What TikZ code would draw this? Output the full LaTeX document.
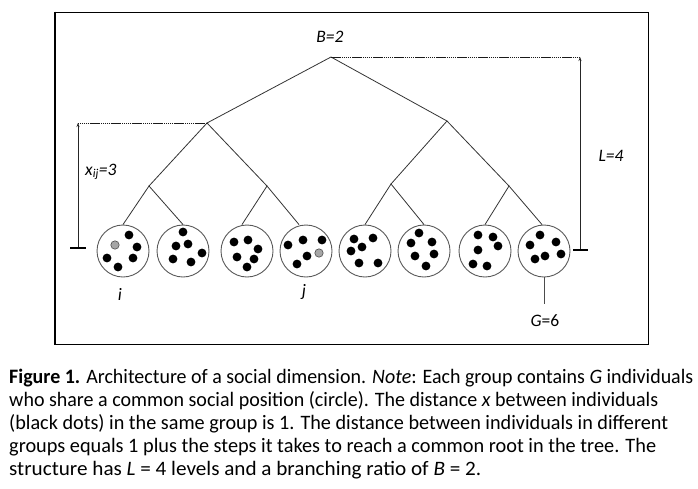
\documentclass[tikz,border=0pt]{standalone}
\usepackage{fontspec}
\usepackage{graphicx}
\setmainfont{Carlito}
\usetikzlibrary{arrows.meta}
\newcommand\grpdots[2]{\foreach \a/\b in {#2} {\fill[black] (#1) ++(\a,\b) circle[radius=4.4];}}
\newcommand\capline[3]{\node[anchor=base west, inner sep=0] at (9,#1) {\resizebox{#2pt}{\height}{\fontsize{20.5}{24}\selectfont #3}};}
\begin{document}
\begin{tikzpicture}[x=1pt,y=-1pt,
  treeline/.style={draw=black!80, line width=0.8pt},
  grp/.style={circle, draw=black!65, line width=0.9pt, minimum size=52pt, inner sep=0pt},
  lbl/.style={font=\fontsize{17.5}{19}\selectfont\itshape, inner sep=0pt},
  dashline/.style={draw=black!90, line width=0.8pt, dash pattern=on 1.5pt off 0.6pt},
  measure/.style={draw=black!85, line width=0.8pt, -{Stealth[length=4pt,width=3pt]}},
  tick/.style={draw=black, line width=1.6pt},
  graydot/.style={fill=black!35, draw=black!70, line width=0.6pt}]
\useasboundingbox (0,0) rectangle (698,488);
% frame
\draw[line width=1pt] (55,12.5) -- (648,12.5) -- (648,344) -- (55,344);
\draw[line width=2pt] (55,11.5) -- (55,345);
% tree nodes
\coordinate (r) at (331,57);
\coordinate (a) at (207,123);
\coordinate (b) at (447,121);
\coordinate (a1) at (149,186);
\coordinate (a2) at (267,186);
\coordinate (b1) at (391,184);
\coordinate (b2) at (509,186);
% groups
\node[grp] (c1) at (123,251) {};
\node[grp] (c2) at (183,251) {};
\node[grp] (c3) at (247,251) {};
\node[grp] (c4) at (306,251) {};
\node[grp] (c5) at (365,251) {};
\node[grp] (c6) at (424,251) {};
\node[grp] (c7) at (485,251) {};
\node[grp] (c8) at (544,251) {};
% tree lines
\draw[treeline] (a) -- (r) -- (b);
\draw[treeline] (a1) -- (a) -- (a2);
\draw[treeline] (b1) -- (b) -- (b2);
\draw[treeline] (c1.north) -- (a1) -- (c2.north);
\draw[treeline] ([xshift=-5pt]c3.north) -- (a2) -- ([xshift=-7pt]c4.north);
\draw[treeline] (c5.north) -- (b1) -- (c6.north);
\draw[treeline] (c7.north) -- (b2) -- ([xshift=-2pt]c8.north);
% dots
\grpdots{c1}{6/-16,14/-4,-16/7,-5/16,10/7}
\filldraw[graydot] (c1) ++(-8,-6) circle[radius=4.2];
\grpdots{c2}{0/-19,-7/-5,5/-7,19/2,-10/8,8/11}
\grpdots{c3}{-13/-9,1/-11,11/-2,-10/6,7/8,0/16}
\grpdots{c4}{-18/-6,-3/-11,16/-11,1/5,-9/13}
\filldraw[graydot] (c4) ++(13,2) circle[radius=4.2];
\grpdots{c5}{-11/-12,8/-13,-14/0,-3/-4,-6/12,13/12}
\grpdots{c6}{-5/-18,-13/-8,8/-9,-9/5,10/3,2/15}
\grpdots{c7}{-7/-16,8/-14,13/-5,-7/-1,-12/13,2/15}
\grpdots{c8}{-4/-16,-14/-6,12/-9,17/3,1/5,-9/8}
% measures
\coordinate (lt) at (78,123);
\coordinate (lb) at (78,248);
\coordinate (rt) at (580,57);
\coordinate (rb) at (580,250);
\draw[dashline] (a) -- (lt);
\draw[dashline] (r) -- (rt);
\draw[measure] (lb) -- (lt);
\draw[measure] (rb) -- (rt);
\draw[tick] ([xshift=-8pt]lb) -- ([xshift=8pt]lb);
\draw[tick] ([xshift=-7pt]rb) -- ([xshift=8pt]rb);
% G line
\coordinate (gl) at (544,304);
\draw[draw=black!70, line width=0.8pt] (c8.south) -- (gl);
% labels
\node[lbl] (lB) at (330,37) {B=2};
\node[lbl, anchor=west] (lx) at (85,172) {x\textsubscript{\fontsize{12}{12}\selectfont ij}=3};
\node[lbl] (lL) at (611,156) {L=4};
\node[lbl] (li) at (120,294) {i};
\node[lbl] (lj) at (304,292) {j};
\node[lbl, font=\fontsize{17.5}{19}\selectfont, anchor=north] (lG) at (545,314) {\textit{G}=6};
% caption
\capline{383}{684}{\textbf{Figure 1.} Architecture of a social dimension. \textit{Note}: Each group contains \textit{G} individuals}
\capline{406}{649}{who share a common social position (circle). The distance \textit{x} between individuals}
\capline{429}{659}{(black dots) in the same group is 1. The distance between individuals in different}
\capline{452}{647}{groups equals 1 plus the steps it takes to reach a common root in the tree. The}
\capline{475}{472}{structure has \textit{L} = 4 levels and a branching ratio of \textit{B} = 2.}
\end{tikzpicture}
\end{document}
